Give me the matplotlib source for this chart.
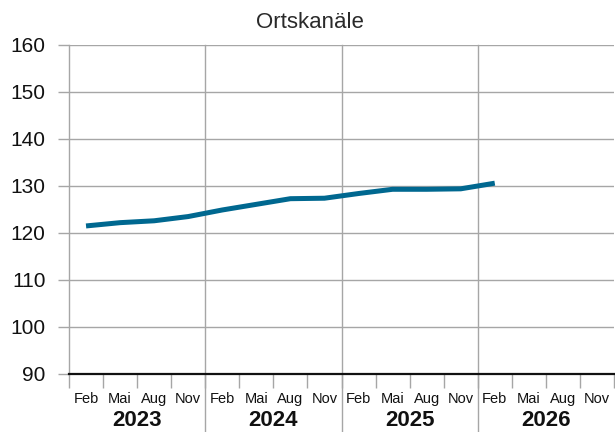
import matplotlib
matplotlib.use("Agg")
import matplotlib.pyplot as plt
import matplotlib.transforms as mtransforms

title = "Ortskanäle"
years = ["2023", "2024", "2025", "2026"]
months = ["Feb", "Mai", "Aug", "Nov"]
values = [121.5, 122.2, 122.6, 123.5, 124.9, 126.1, 127.3, 127.4,
          128.4, 129.3, 129.3, 129.4, 130.6]
y_ticks = [90, 100, 110, 120, 130, 140, 150, 160]

plt.rcParams['font.family'] = ['Liberation Sans', 'DejaVu Sans']

fig = plt.figure(figsize=(6.15, 4.32), dpi=100)
ax = fig.add_axes([69/615, 1 - 374/432, (614 - 69)/615, (374 - 45)/432])

grid_c = "#a6a6a6"
line_c = "#006890"

n_q = len(years) * len(months)
xs = [i + 0.5 for i in range(len(values))]
ax.plot(xs, values, color=line_c, lw=3.6, solid_capstyle='butt', zorder=5)

ax.set_xlim(0, n_q)
ax.set_ylim(y_ticks[0], y_ticks[-1])
ax.set_yticks(y_ticks)
ax.set_yticklabels([str(v) for v in y_ticks], fontsize=15, color='#111111')
ax.tick_params(axis='y', length=8, width=1, color=grid_c, pad=9)
ax.yaxis.grid(True, color=grid_c, lw=1)
ax.set_axisbelow(True)

for s in ['top', 'right']:
    ax.spines[s].set_visible(False)
ax.spines['left'].set_color(grid_c)
ax.spines['left'].set_linewidth(1)
ax.spines['bottom'].set_color('#111111')
ax.spines['bottom'].set_linewidth(1.6)
ax.spines['bottom'].set_zorder(6)

# quarter ticks
ax.set_xticks(range(0, n_q + 1))
ax.set_xticklabels([])
ax.tick_params(axis='x', which='major', length=10, width=1, color=grid_c)
ax.set_xticks([i + 0.5 for i in range(n_q)], minor=True)
ax.set_xticklabels([months[i % 4] for i in range(n_q)], minor=True,
                   fontsize=10.5, color='#111111')
ax.tick_params(axis='x', which='minor', length=0, pad=13)

# year separators
trans = mtransforms.blended_transform_factory(ax.transData, ax.transAxes)
for k in range(1, len(years)):
    ax.plot([4 * k, 4 * k], [1, -58/329], transform=trans, color=grid_c,
            lw=1, clip_on=False, zorder=1)
for k, yr in enumerate(years):
    ax.text(4 * k + 2, -46/329, yr, transform=trans, ha='center',
            va='center', fontsize=16, fontweight='bold',
            color='#111111')

fig.text(310/615, 1 - 23/432, title, ha='center', va='center',
         fontsize=16, color='#2a2a2a')

fig.savefig("out.png", dpi=100)
